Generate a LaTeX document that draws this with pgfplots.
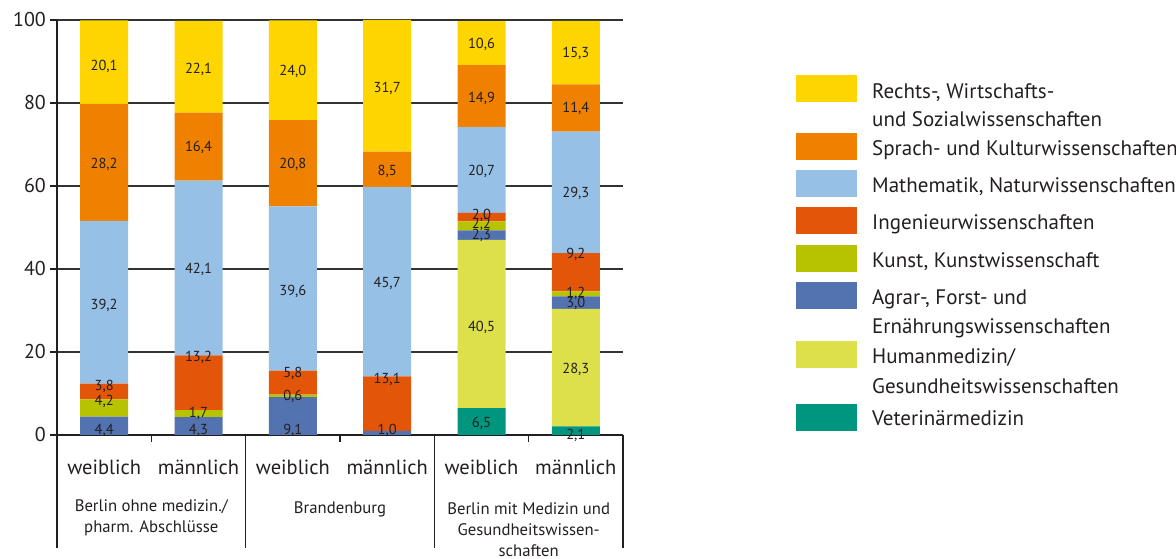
\documentclass[border=0pt]{standalone}
\usepackage{fontspec}
\setmainfont{PT Sans}
\usepackage{pgfplots}
\pgfplotsset{compat=1.18}
\usepackage{pgfplotstable}

\definecolor{crec}{RGB}{255,213,0}
\definecolor{cspr}{RGB}{239,128,0}
\definecolor{cmat}{RGB}{150,192,230}
\definecolor{cing}{RGB}{227,86,10}
\definecolor{ckun}{RGB}{184,195,0}
\definecolor{cagr}{RGB}{82,114,176}
\definecolor{chum}{RGB}{221,224,74}
\definecolor{cvet}{RGB}{0,149,126}
\definecolor{textcol}{RGB}{35,31,32}
\definecolor{axiscol}{RGB}{35,31,32}
\definecolor{gridcol}{RGB}{50,50,50}

\pgfplotstableread{
x   vet  hum  agr  kun  ing  mat  spr  rec
0.5 0    0    4.4  4.2  3.8  39.2 28.2 20.1
1.5 0    0    4.3  1.7  13.2 42.1 16.4 22.1
2.5 0    0    9.1  0.6  5.8  39.6 20.8 24.0
3.5 0    0    1.0  0    13.1 45.7 8.5  31.7
4.5 6.5  40.5 2.3  2.2  2.0  20.7 14.9 10.6
5.5 2.1  28.3 3.0  1.2  9.2  29.3 11.4 15.3
}\data

\pgfplotstableread{
x   y    lab
0.5 88.9 20,1
0.5 65.1 28,2
0.5 31.3 39,2
0.5 11.6 3,8
0.5 8.0  4,2
0.5 1.2  4,4
1.5 88.2 22,1
1.5 69.2 16,4
1.5 39.8 42,1
1.5 18.6 13,2
1.5 5.3  1,7
1.5 1.2  4,3
2.5 87.5 24,0
2.5 65.1 20,8
2.5 34.5 39,6
2.5 14.9 5,8
2.5 9.2  0,6
2.5 1.2  9,1
3.5 83.6 31,7
3.5 63.6 8,5
3.5 36.6 45,7
3.5 13.3 13,1
3.5 1.2  1,0
4.5 94.0 10,6
4.5 81.2 14,9
4.5 63.4 20,7
4.5 53.0 2,0
4.5 50.8 2,2
4.5 48.2 2,3
4.5 26.0 40,5
4.5 2.7  6,5
5.5 92.0 15,3
5.5 78.6 11,4
5.5 58.3 29,3
5.5 43.4 9,2
5.5 34.2 1,2
5.5 31.6 3,0
5.5 15.7 28,3
5.5 0.0  2,1
}\labels

\newcommand{\legfont}{\fontsize{21}{24}\selectfont}
\newcommand{\grpfont}{\fontsize{16.7}{20}\selectfont}

\begin{document}
\begin{tikzpicture}
\useasboundingbox (0,0) rectangle (1176pt,559pt);
\begin{axis}[
  at={(57pt,124pt)}, anchor=south west,
  scale only axis, width=566pt, height=415pt,
  xmin=0, xmax=6, ymin=0, ymax=100,
  ybar stacked, bar width=48pt,
  axis x line*=bottom, axis y line*=left,
  axis line style={-, line width=1.6pt, draw=axiscol},
  ytick={0,20,40,60,80,100},
  xtick={0.5,1.5,2.5,3.5,4.5,5.5},
  xticklabels={weiblich,männlich,weiblich,männlich,weiblich,männlich},
  tick align=outside,
  major tick length=7pt,
  ytick style={line width=1.3pt, draw=axiscol},
  xtick style={draw=none},
  ymajorgrids, major grid style={line width=1.3pt, draw=gridcol},
  yticklabel style={font=\fontsize{20}{22}\selectfont, text=textcol, anchor=east, inner sep=0pt, xshift=-4pt},
  xticklabel style={font=\fontsize{20.5}{22}\selectfont, text=textcol, anchor=center, inner sep=0pt, yshift=-25pt},
  /pgf/number format/assume math mode=true,
  clip=false,
]
\addplot[fill=cvet, draw=none] table[x=x, y=vet] {\data};
\addplot[fill=chum, draw=none] table[x=x, y=hum] {\data};
\addplot[fill=cagr, draw=none] table[x=x, y=agr] {\data};
\addplot[fill=ckun, draw=none] table[x=x, y=kun] {\data};
\addplot[fill=cing, draw=none] table[x=x, y=ing] {\data};
\addplot[fill=cmat, draw=none] table[x=x, y=mat] {\data};
\addplot[fill=cspr, draw=none] table[x=x, y=spr] {\data};
\addplot[fill=crec, draw=none] table[x=x, y=rec] {\data};
\draw[line width=1.3pt, axiscol] (axis cs:1,0) -- ++(0pt,-7pt);
\draw[line width=1.3pt, axiscol] (axis cs:3,0) -- ++(0pt,-7pt);
\draw[line width=1.3pt, axiscol] (axis cs:5,0) -- ++(0pt,-7pt);
\draw[line width=1.6pt, axiscol] (axis cs:0,0) -- ++(0pt,-113pt);
\draw[line width=1.6pt, axiscol] (axis cs:2,0) -- ++(0pt,-113pt);
\draw[line width=1.6pt, axiscol] (axis cs:4,0) -- ++(0pt,-113pt);
\draw[line width=1.6pt, axiscol] (axis cs:6,0) -- ++(0pt,-113pt);
\end{axis}
\begin{axis}[
  at={(57pt,124pt)}, anchor=south west,
  scale only axis, width=566pt, height=415pt,
  xmin=0, xmax=6, ymin=0, ymax=100,
  hide axis, clip=false,
]
\addplot[draw=none, mark=none, nodes near coords, point meta=explicit symbolic,
  nodes near coords style={anchor=center, inner sep=0pt, text=textcol, font=\fontsize{14.5}{16}\selectfont}]
  table[x=x, y=y, meta=lab] {\labels};
\end{axis}

% group labels
\begin{scope}[every node/.style={anchor=base, inner sep=0pt, text=textcol, font=\grpfont}]
\node at (151.3pt,47pt) {Berlin ohne medizin./};
\node at (151.3pt,26pt) {pharm. Abschlüsse};
\node at (340pt,45pt) {Brandenburg};
\node at (528.7pt,44pt) {Berlin mit Medizin und};
\node at (528.7pt,23pt) {Gesundheitswissen-};
\node at (528.7pt,2pt) {schaften};
\end{scope}

% legend
\fill[crec] (796pt,457.3pt) rectangle (857pt,484pt);
\fill[cspr] (796pt,399pt) rectangle (857pt,425.7pt);
\fill[cmat] (796pt,362.3pt) rectangle (857pt,389pt);
\fill[cing] (796pt,325.3pt) rectangle (857pt,352pt);
\fill[ckun] (796pt,287.3pt) rectangle (857pt,314pt);
\fill[cagr] (796pt,250.3pt) rectangle (857pt,277pt);
\fill[chum] (796pt,191.3pt) rectangle (857pt,218pt);
\fill[cvet] (796pt,128pt) rectangle (857pt,154.7pt);
\begin{scope}[every node/.style={anchor=base west, inner sep=0pt, text=textcol, font=\legfont}]
\node at (872pt,460.7pt) {Rechts-, Wirtschafts-};
\node at (872pt,432.3pt) {und Sozialwissenschaften};
\node at (872pt,403.3pt) {Sprach- und Kulturwissenschaften};
\node at (872pt,366.7pt) {Mathematik, Naturwissenschaften};
\node at (872pt,329pt) {Ingenieurwissenschaften};
\node at (872pt,291.7pt) {Kunst, Kunstwissenschaft};
\node at (872pt,254.7pt) {Agrar-, Forst- und};
\node at (872pt,225pt) {Ernährungswissenschaften};
\node at (872pt,195.7pt) {Humanmedizin/};
\node at (872pt,165.7pt) {Gesundheitswissenschaften};
\node at (872pt,133pt) {Veterinärmedizin};
\end{scope}
\end{tikzpicture}
\end{document}
